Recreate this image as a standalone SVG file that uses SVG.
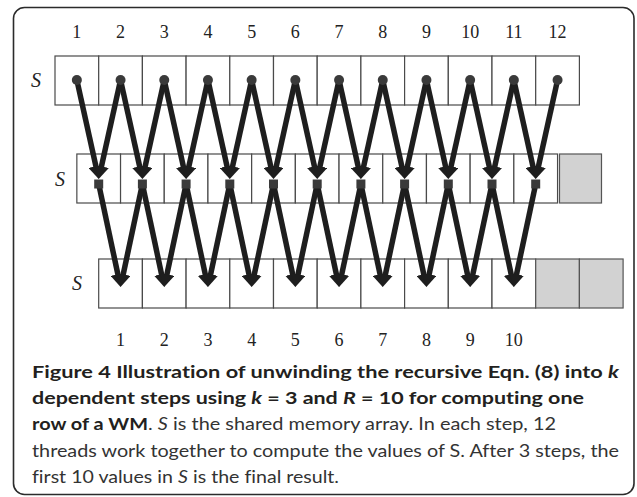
<svg xmlns="http://www.w3.org/2000/svg" width="637" height="497" viewBox="0 0 637 497">
<style>
.frame{fill:#fff;stroke:#2b2b2b;stroke-width:1.6}
.cell{fill:#fff;stroke:#4a4a4a;stroke-width:1.2}
.gray{fill:#d2d2d2;stroke:#555;stroke-width:1.2}
.num{font-family:"Liberation Serif",serif;font-size:18px;fill:#222;text-anchor:middle}
.s{font-family:"Liberation Serif",serif;font-size:20px;font-style:italic;fill:#222;text-anchor:middle}
.arr{fill:none;stroke:#1e1e1e;stroke-width:5.5;marker-end:url(#ah)}
.dot{fill:#3a3a3a}
.cap{font-family:Lato,"Open Sans",sans-serif;font-size:17px;fill:#333;font-variant-ligatures:none}
.b{font-weight:bold;fill:#231f20}
.i{font-style:italic}
</style>
<defs>
<marker id="ah" markerUnits="userSpaceOnUse" markerWidth="13" markerHeight="15" refX="5" refY="7.5" orient="auto">
<path d="M0,0 L13,7.5 L0,15 z" fill="#1e1e1e"/>
</marker>
</defs>
<rect class="frame" x="13.5" y="7.5" width="620.5" height="487" rx="11"/>
<g id="row1">
<rect class="cell" x="55" y="56" width="43.7" height="49"/>
<rect class="cell" x="98.7" y="56" width="43.7" height="49"/>
<rect class="cell" x="142.4" y="56" width="43.7" height="49"/>
<rect class="cell" x="186.1" y="56" width="43.7" height="49"/>
<rect class="cell" x="229.8" y="56" width="43.7" height="49"/>
<rect class="cell" x="273.5" y="56" width="43.7" height="49"/>
<rect class="cell" x="317.2" y="56" width="43.7" height="49"/>
<rect class="cell" x="360.9" y="56" width="43.7" height="49"/>
<rect class="cell" x="404.6" y="56" width="43.7" height="49"/>
<rect class="cell" x="448.3" y="56" width="43.7" height="49"/>
<rect class="cell" x="492" y="56" width="43.7" height="49"/>
<rect class="cell" x="535.7" y="56" width="43.7" height="49"/>
<text class="s" x="36" y="87">S</text>
</g>
<g id="row2">
<rect class="cell" x="76.85" y="154" width="43.7" height="49"/>
<rect class="cell" x="120.55" y="154" width="43.7" height="49"/>
<rect class="cell" x="164.25" y="154" width="43.7" height="49"/>
<rect class="cell" x="207.95" y="154" width="43.7" height="49"/>
<rect class="cell" x="251.65" y="154" width="43.7" height="49"/>
<rect class="cell" x="295.35" y="154" width="43.7" height="49"/>
<rect class="cell" x="339.05" y="154" width="43.7" height="49"/>
<rect class="cell" x="382.75" y="154" width="43.7" height="49"/>
<rect class="cell" x="426.45" y="154" width="43.7" height="49"/>
<rect class="cell" x="470.15" y="154" width="43.7" height="49"/>
<rect class="cell" x="513.85" y="154" width="43.7" height="49"/>
<rect class="gray" x="559.5" y="154" width="42" height="49"/>
<text class="s" x="60" y="186">S</text>
</g>
<g id="row3">
<rect class="cell" x="98.7" y="259" width="43.7" height="49"/>
<rect class="cell" x="142.4" y="259" width="43.7" height="49"/>
<rect class="cell" x="186.1" y="259" width="43.7" height="49"/>
<rect class="cell" x="229.8" y="259" width="43.7" height="49"/>
<rect class="cell" x="273.5" y="259" width="43.7" height="49"/>
<rect class="cell" x="317.2" y="259" width="43.7" height="49"/>
<rect class="cell" x="360.9" y="259" width="43.7" height="49"/>
<rect class="cell" x="404.6" y="259" width="43.7" height="49"/>
<rect class="cell" x="448.3" y="259" width="43.7" height="49"/>
<rect class="cell" x="492" y="259" width="43.7" height="49"/>
<rect class="gray" x="535.7" y="259" width="43.7" height="49"/>
<rect class="gray" x="579.4" y="259" width="43.7" height="49"/>
<text class="s" x="77" y="290">S</text>
</g>
<g id="top-labels">
<text class="num" x="76.85" y="38">1</text>
<text class="num" x="120.55" y="38">2</text>
<text class="num" x="164.25" y="38">3</text>
<text class="num" x="207.95" y="38">4</text>
<text class="num" x="251.65" y="38">5</text>
<text class="num" x="295.35" y="38">6</text>
<text class="num" x="339.05" y="38">7</text>
<text class="num" x="382.75" y="38">8</text>
<text class="num" x="426.45" y="38">9</text>
<text class="num" x="470.15" y="38">10</text>
<text class="num" x="513.85" y="38">11</text>
<text class="num" x="557.55" y="38">12</text>
</g>
<g id="bottom-labels">
<text class="num" x="120.55" y="346">1</text>
<text class="num" x="164.25" y="346">2</text>
<text class="num" x="207.95" y="346">3</text>
<text class="num" x="251.65" y="346">4</text>
<text class="num" x="295.35" y="346">5</text>
<text class="num" x="339.05" y="346">6</text>
<text class="num" x="382.75" y="346">7</text>
<text class="num" x="426.45" y="346">8</text>
<text class="num" x="470.15" y="346">9</text>
<text class="num" x="513.85" y="346">10</text>
</g>
<g id="connectors">
<path class="arr" d="M76.85,80 L96.98,171.19"/>
<path class="arr" d="M120.55,80 L140.68,171.19"/>
<path class="arr" d="M164.25,80 L184.38,171.19"/>
<path class="arr" d="M207.95,80 L228.08,171.19"/>
<path class="arr" d="M251.65,80 L271.78,171.19"/>
<path class="arr" d="M295.35,80 L315.48,171.19"/>
<path class="arr" d="M339.05,80 L359.18,171.19"/>
<path class="arr" d="M382.75,80 L402.88,171.19"/>
<path class="arr" d="M426.45,80 L446.58,171.19"/>
<path class="arr" d="M470.15,80 L490.28,171.19"/>
<path class="arr" d="M513.85,80 L533.98,171.19"/>
<path class="arr" d="M120.55,80 L100.42,171.19"/>
<path class="arr" d="M164.25,80 L144.12,171.19"/>
<path class="arr" d="M207.95,80 L187.82,171.19"/>
<path class="arr" d="M251.65,80 L231.52,171.19"/>
<path class="arr" d="M295.35,80 L275.22,171.19"/>
<path class="arr" d="M339.05,80 L318.92,171.19"/>
<path class="arr" d="M382.75,80 L362.62,171.19"/>
<path class="arr" d="M426.45,80 L406.32,171.19"/>
<path class="arr" d="M470.15,80 L450.02,171.19"/>
<path class="arr" d="M513.85,80 L493.72,171.19"/>
<path class="arr" d="M557.55,80 L537.42,171.19"/>
<path class="arr" d="M98.7,184 L118.89,279.17"/>
<path class="arr" d="M142.4,184 L162.59,279.17"/>
<path class="arr" d="M186.1,184 L206.29,279.17"/>
<path class="arr" d="M229.8,184 L249.99,279.17"/>
<path class="arr" d="M273.5,184 L293.69,279.17"/>
<path class="arr" d="M317.2,184 L337.39,279.17"/>
<path class="arr" d="M360.9,184 L381.09,279.17"/>
<path class="arr" d="M404.6,184 L424.79,279.17"/>
<path class="arr" d="M448.3,184 L468.49,279.17"/>
<path class="arr" d="M492,184 L512.19,279.17"/>
<path class="arr" d="M142.4,184 L122.21,279.17"/>
<path class="arr" d="M186.1,184 L165.91,279.17"/>
<path class="arr" d="M229.8,184 L209.61,279.17"/>
<path class="arr" d="M273.5,184 L253.31,279.17"/>
<path class="arr" d="M317.2,184 L297.01,279.17"/>
<path class="arr" d="M360.9,184 L340.71,279.17"/>
<path class="arr" d="M404.6,184 L384.41,279.17"/>
<path class="arr" d="M448.3,184 L428.11,279.17"/>
<path class="arr" d="M492,184 L471.81,279.17"/>
<path class="arr" d="M535.7,184 L515.51,279.17"/>
</g>
<g id="row1-dots">
<circle class="dot" cx="76.85" cy="80" r="5"/>
<circle class="dot" cx="120.55" cy="80" r="5"/>
<circle class="dot" cx="164.25" cy="80" r="5"/>
<circle class="dot" cx="207.95" cy="80" r="5"/>
<circle class="dot" cx="251.65" cy="80" r="5"/>
<circle class="dot" cx="295.35" cy="80" r="5"/>
<circle class="dot" cx="339.05" cy="80" r="5"/>
<circle class="dot" cx="382.75" cy="80" r="5"/>
<circle class="dot" cx="426.45" cy="80" r="5"/>
<circle class="dot" cx="470.15" cy="80" r="5"/>
<circle class="dot" cx="513.85" cy="80" r="5"/>
<circle class="dot" cx="557.55" cy="80" r="5"/>
</g>
<g id="row2-dots">
<rect class="dot" x="94.2" y="179.5" width="9" height="9"/>
<rect class="dot" x="137.9" y="179.5" width="9" height="9"/>
<rect class="dot" x="181.6" y="179.5" width="9" height="9"/>
<rect class="dot" x="225.3" y="179.5" width="9" height="9"/>
<rect class="dot" x="269" y="179.5" width="9" height="9"/>
<rect class="dot" x="312.7" y="179.5" width="9" height="9"/>
<rect class="dot" x="356.4" y="179.5" width="9" height="9"/>
<rect class="dot" x="400.1" y="179.5" width="9" height="9"/>
<rect class="dot" x="443.8" y="179.5" width="9" height="9"/>
<rect class="dot" x="487.5" y="179.5" width="9" height="9"/>
<rect class="dot" x="531.2" y="179.5" width="9" height="9"/>
</g>
<g id="caption">
<text class="cap b" x="32" y="378" textLength="587" lengthAdjust="spacingAndGlyphs">Figure 4 Illustration of unwinding the recursive Eqn. (8) into <tspan class="i">k</tspan></text>
<text class="cap b" x="32" y="404" textLength="552" lengthAdjust="spacingAndGlyphs">dependent steps using <tspan class="i">k</tspan> = 3 and <tspan class="i">R</tspan> = 10 for computing one</text>
<text class="cap" x="32" y="430" textLength="524" lengthAdjust="spacingAndGlyphs"><tspan class="b">row of a WM</tspan>. <tspan class="i">S</tspan> is the shared memory array. In each step, 12</text>
<text class="cap" x="32" y="457" textLength="587" lengthAdjust="spacingAndGlyphs">threads work together to compute the values of S. After 3 steps, the</text>
<text class="cap" x="32" y="483" textLength="307" lengthAdjust="spacingAndGlyphs">first 10 values in <tspan class="i">S</tspan> is the final result.</text>
</g>
</svg>
